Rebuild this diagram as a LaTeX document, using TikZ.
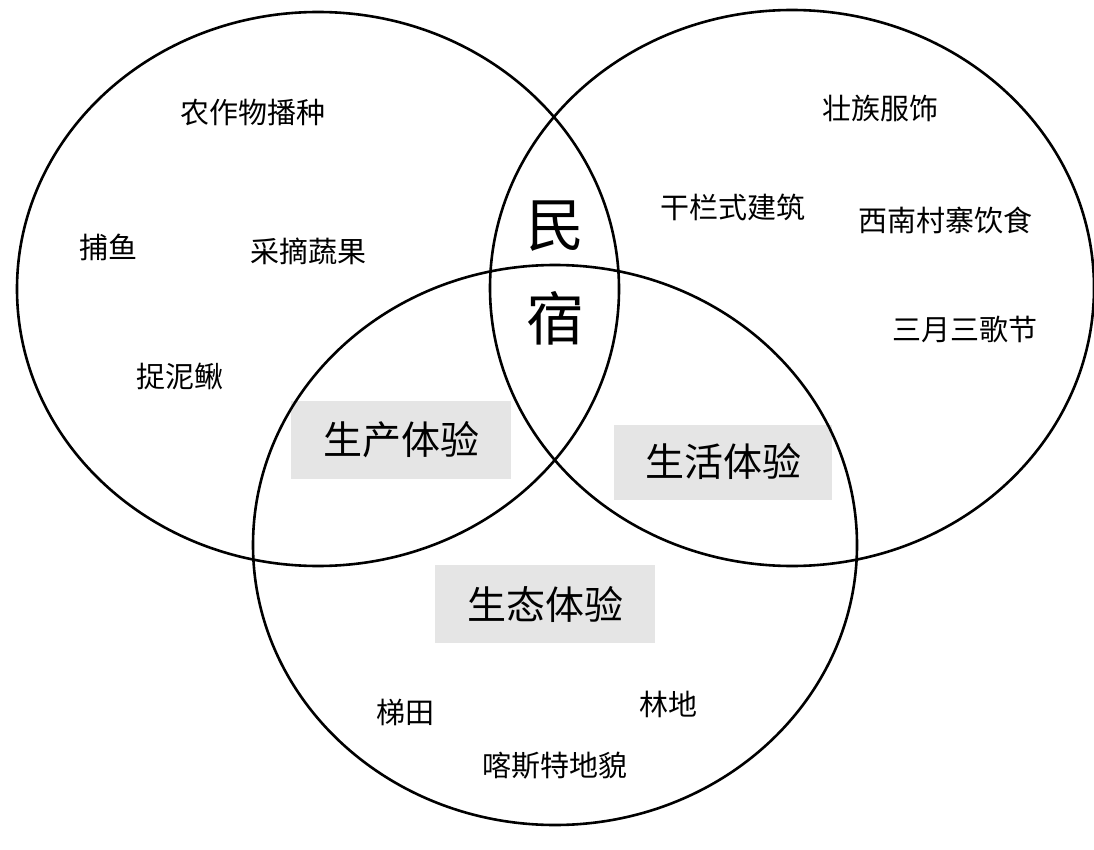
\documentclass[tikz,border=0pt]{standalone}
\usepackage{fontspec}
\setmainfont{Noto Sans CJK SC}
\usepackage{tikz}
\begin{document}
\begin{tikzpicture}[x=1pt,y=-1pt]
    \tikzset{ring/.style={draw,line width=2.6pt}}
    \tikzset{item/.style={font=\fontsize{29}{29}\selectfont,inner sep=0pt}}
    \tikzset{theme/.style={fill=gray!20,minimum width=220pt,minimum height=78pt,font=\fontsize{39}{39}\selectfont}}
    \useasboundingbox (0,0) rectangle (1094,850);

    % grey theme boxes
    \node[theme] (prod) at (401,440) {生产体验};
    \node[theme,minimum width=218pt,minimum height=75pt] (life) at (723,462) {生活体验};
    \node[theme] (eco) at (545,604) {生态体验};

    % the three rings
    \draw[ring] (318,289) ellipse (301 and 277);
    \draw[ring] (792,288) ellipse (302 and 278);
    \draw[ring] (555,545) ellipse (302 and 280);

    % centre
    \node[font=\fontsize{58}{58}\selectfont] (min) at (555,226) {民};
    \node[font=\fontsize{58}{58}\selectfont] (su) at (555,318) {宿};

    % production
    \node[item] (sow) at (253,112) {农作物播种};
    \node[item] (fish) at (108,247) {捕鱼};
    \node[item] (pick) at (308,251) {采摘蔬果};
    \node[item] (loach) at (180,376) {捉泥鳅};

    % life
    \node[item] (dress) at (880,108) {壮族服饰};
    \node[item] (house) at (733,207) {干栏式建筑};
    \node[item] (food) at (945,220) {西南村寨饮食};
    \node[item] (song) at (965,330) {三月三歌节};

    % ecology
    \node[item] (terr) at (405,712) {梯田};
    \node[item] (wood) at (668,704) {林地};
    \node[item] (karst) at (555,766) {喀斯特地貌};
\end{tikzpicture}
\end{document}
